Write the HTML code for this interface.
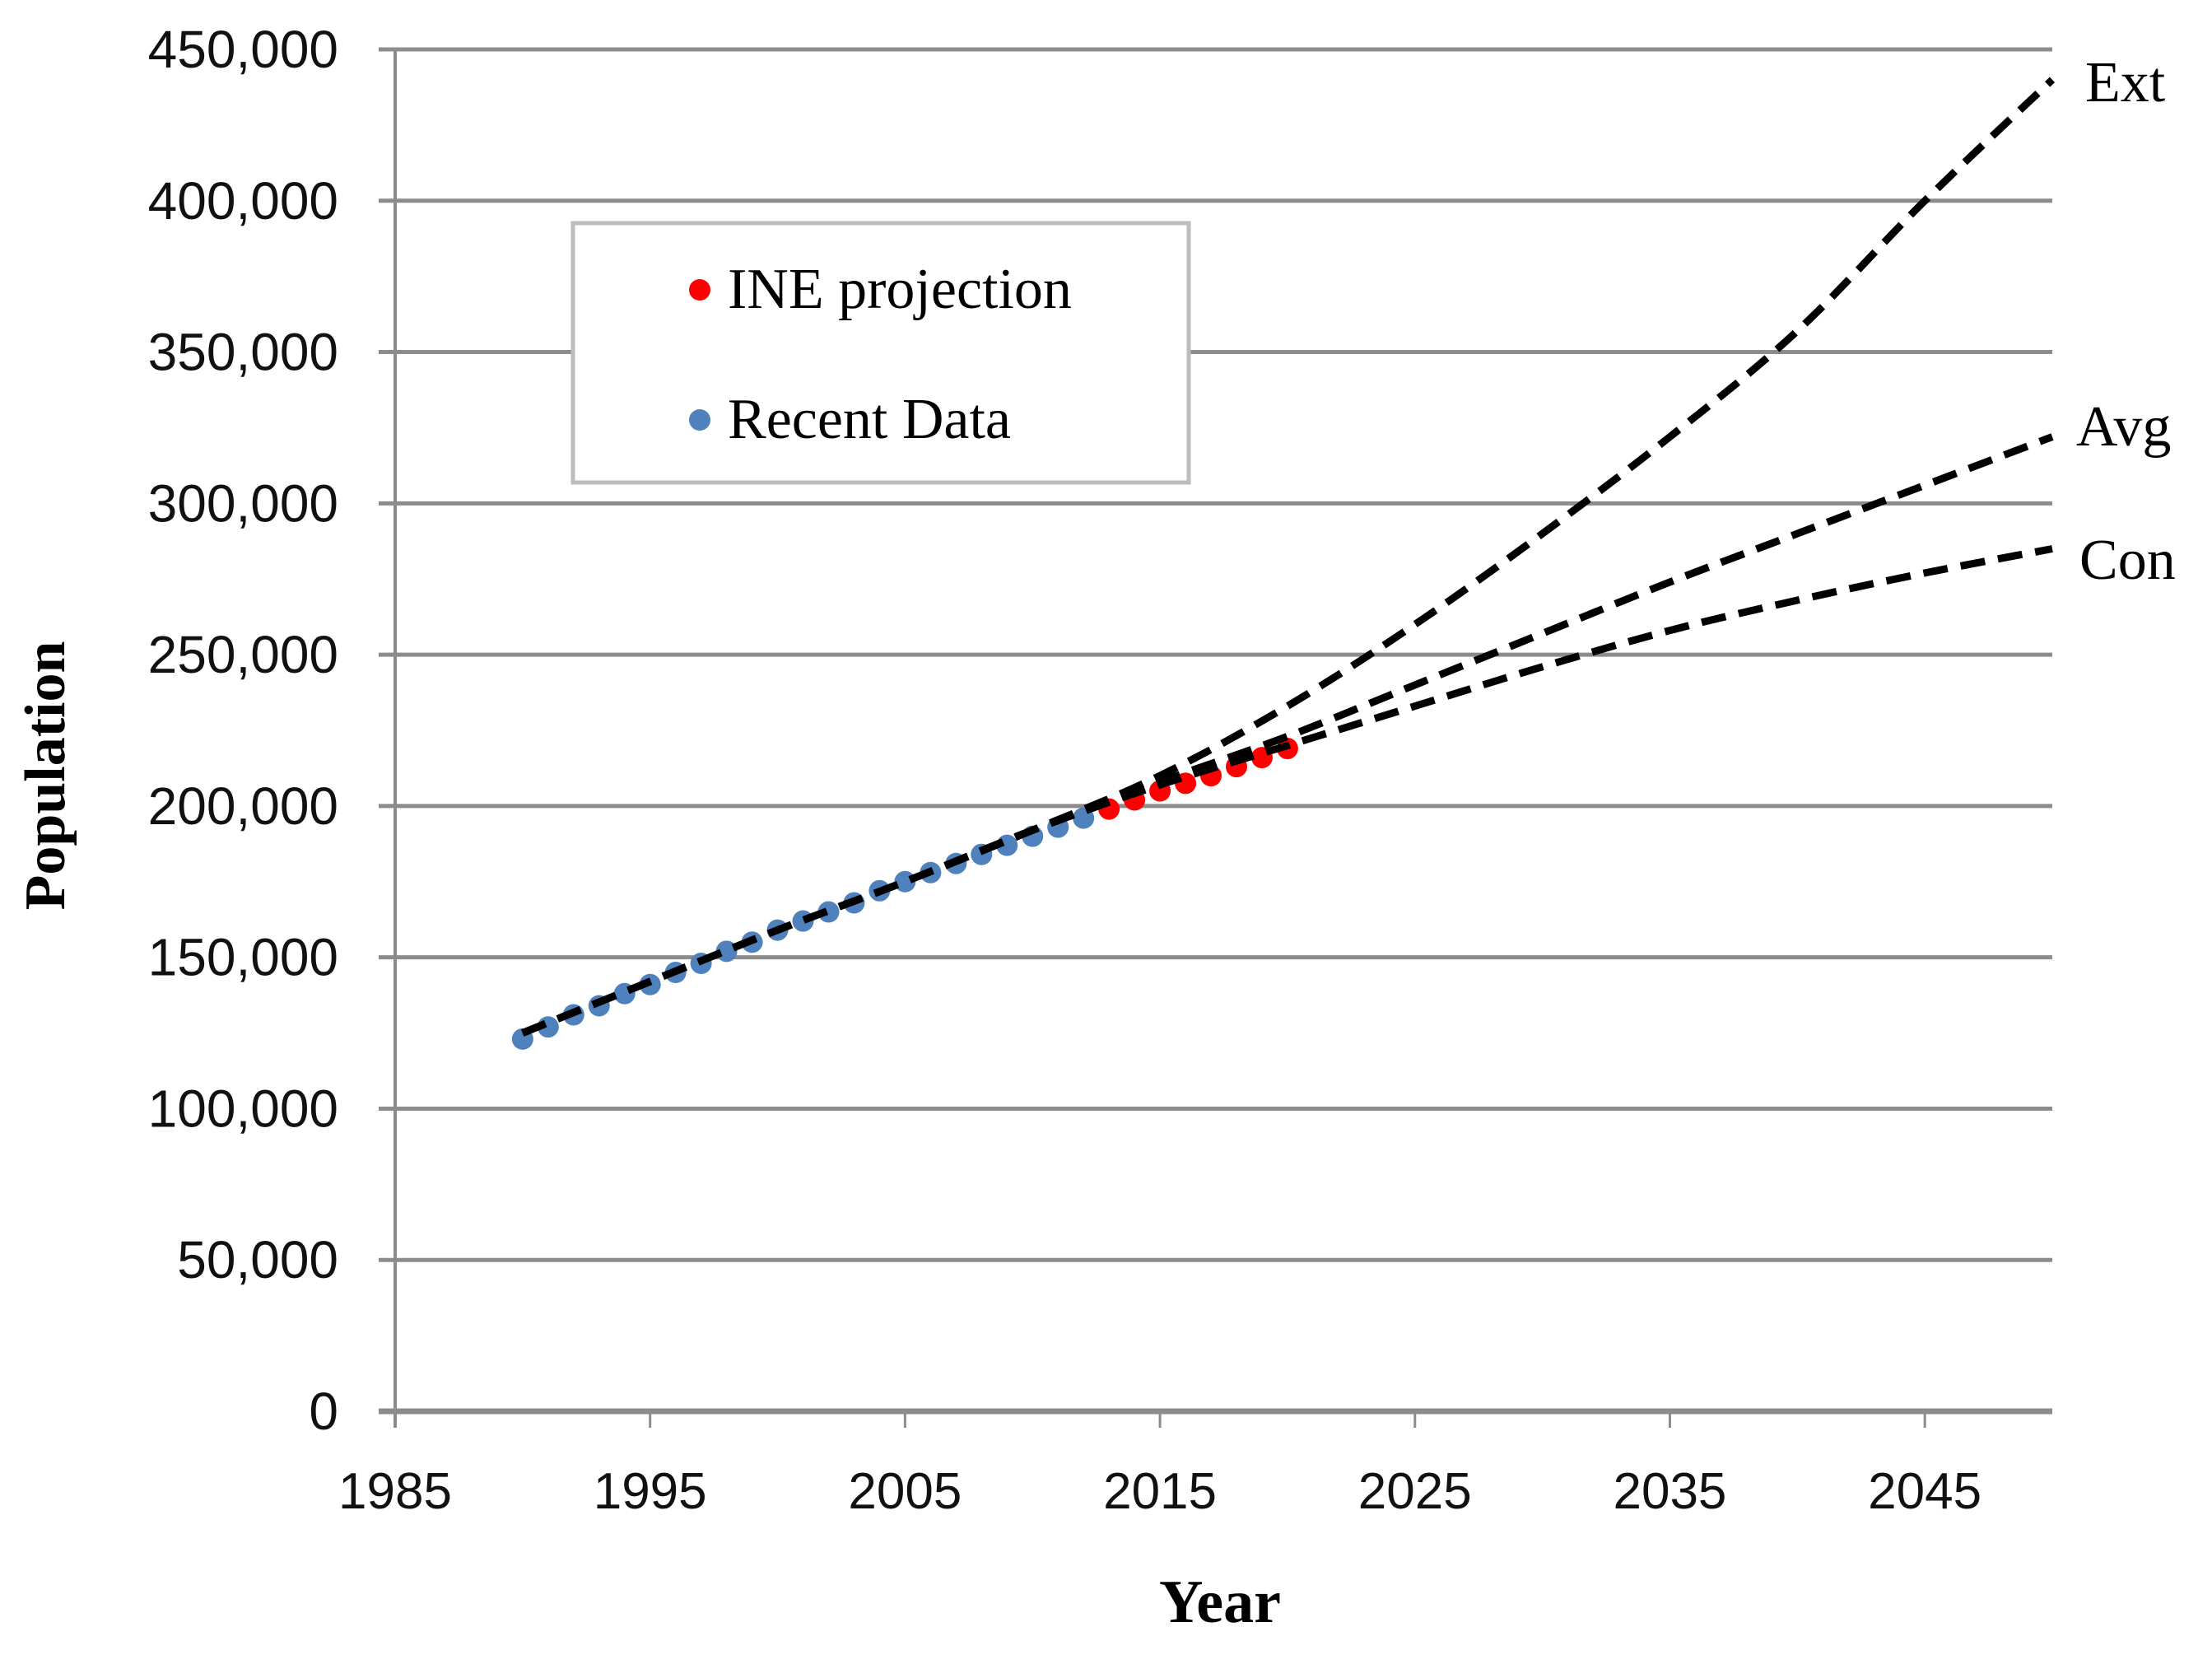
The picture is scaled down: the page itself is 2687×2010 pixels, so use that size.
<!DOCTYPE html>
<html><head><meta charset="utf-8"><style>
html,body{margin:0;padding:0;background:#fff;}
svg{display:block;}
</style></head><body>
<svg id="chart" width="2687" height="2010" xmlns="http://www.w3.org/2000/svg">
<g id="grid"></g>
<g id="axes"></g>
<g id="series"></g>
<text x="1482" y="1970" text-anchor="middle" font-family="Liberation Serif, serif" font-weight="bold" font-size="74">Year</text>
<text transform="translate(78,942) rotate(-90)" text-anchor="middle" font-family="Liberation Serif, serif" font-weight="bold" font-size="70">Population</text>
<g>
<rect x="696" y="271" width="748" height="315" fill="#fff" stroke="#bdbdbd" stroke-width="5"/>
<g>
<circle cx="850" cy="352" r="13" fill="#ff0000"/>
<text x="884" y="374" font-family="Liberation Serif, serif" font-size="70">INE projection</text>
</g>
<g>
<circle cx="850" cy="510" r="13" fill="#4f81bd"/>
<text x="884" y="532" font-family="Liberation Serif, serif" font-size="70">Recent Data</text>
</g>
</g>
<text x="2533" y="123" font-family="Liberation Serif, serif" font-size="70">Ext</text>
<text x="2522" y="541" font-family="Liberation Serif, serif" font-size="70">Avg</text>
<text x="2526" y="703" font-family="Liberation Serif, serif" font-size="70">Con</text>
</svg>
<script>
const yTicks = [0,50000,100000,150000,200000,250000,300000,350000,400000,450000];
const xTicks = [1985,1995,2005,2015,2025,2035,2045];
const recentYears = [1990,1991,1992,1993,1994,1995,1996,1997,1998,1999,2000,2001,2002,2003,2004,2005,2006,2007,2008,2009,2010,2011,2012];
const recentValues = [123000,127000,131000,134000,138000,141000,145000,148000,152000,155000,159000,162000,165000,168000,172000,175000,178000,181000,184000,187000,190000,193000,196000];
const ineYears = [2013,2014,2015,2016,2017,2018,2019,2020];
const ineValues = [199000,202000,205000,207500,210000,213000,216000,219000];
const trendYears = [1990,1995,2000,2005,2010,2015,2020,2025,2030,2035,2040,2045,2050];
const extValues = [125000,142000,159000,175000,192000,210000,233000,260000,290000,322000,357000,400000,440000];
const avgValues = [125000,142000,159000,175000,192000,208000,223000,240000,257000,274000,290000,306000,322000];
const conValues = [125000,142000,159000,175000,192000,207000,220000,233000,246000,258000,268000,277000,285000];

const NS='http://www.w3.org/2000/svg';
const X0=480,X1=2493,Y0=1714,Y1=60;
function xs(v){return X0+(v-1985)/(2050-1985)*(X1-X0);}
function ys(v){return Y0-(v/450000)*(Y0-Y1);}
function mk(tag,attrs,parent){const e=document.createElementNS(NS,tag);for(const k in attrs)e.setAttribute(k,attrs[k]);parent.appendChild(e);return e;}
const grid=document.getElementById('grid'),axes=document.getElementById('axes'),series=document.getElementById('series');

yTicks.forEach(t=>{
  const l=mk('line',{x1:X0-20,x2:X1,y1:ys(t),y2:ys(t),stroke:'#8c8c8c','stroke-width':t===0?7:5},grid);
  
  
  const tx=mk('text',{x:411,y:ys(t)+22,'text-anchor':'end','font-family':'Liberation Sans, sans-serif','font-size':64,fill:'#111'},axes);
  tx.textContent=t.toLocaleString('en-US');
  
  
});
const ax=mk('line',{x1:X0,x2:X0,y1:Y1,y2:Y0+20,stroke:'#8c8c8c','stroke-width':4},axes);


xTicks.forEach(t=>{
  const l=mk('line',{x1:xs(t),x2:xs(t),y1:Y0,y2:Y0+20,stroke:'#8c8c8c','stroke-width':3},axes);
  
  
  const tx=mk('text',{x:xs(t),y:1832,'text-anchor':'middle','font-family':'Liberation Sans, sans-serif','font-size':62,fill:'#111'},axes);
  tx.textContent=t;
  
  
});

recentYears.forEach((yr,i)=>{
  const c=mk('circle',{cx:xs(yr),cy:ys(recentValues[i]),r:13,fill:'#4f81bd'},series);
  
  
});
ineYears.forEach((yr,i)=>{
  const c=mk('circle',{cx:xs(yr),cy:ys(ineValues[i]),r:13,fill:'#ff0000'},series);
  
  
});
function line(vals,name){
  const P=trendYears.map((yr,i)=>[xs(yr),ys(vals[i])]);
  let d='M'+P[0][0].toFixed(1)+','+P[0][1].toFixed(1);
  for(let i=0;i<P.length-1;i++){
    const p0=P[Math.max(0,i-1)],p1=P[i],p2=P[i+1],p3=P[Math.min(P.length-1,i+2)];
    const c1=[p1[0]+(p2[0]-p0[0])/6,p1[1]+(p2[1]-p0[1])/6];
    const c2=[p2[0]-(p3[0]-p1[0])/6,p2[1]-(p3[1]-p1[1])/6];
    d+=' C'+c1[0].toFixed(1)+','+c1[1].toFixed(1)+' '+c2[0].toFixed(1)+','+c2[1].toFixed(1)+' '+p2[0].toFixed(1)+','+p2[1].toFixed(1);
  }
  const p=mk('path',{d:d,fill:'none',stroke:'#000','stroke-width':9,'stroke-dasharray':'30 16'},series);
  
  
}
line(extValues,'ext-trend-line');
line(avgValues,'avg-trend-line');
line(conValues,'con-trend-line');
</script>
</body></html>
